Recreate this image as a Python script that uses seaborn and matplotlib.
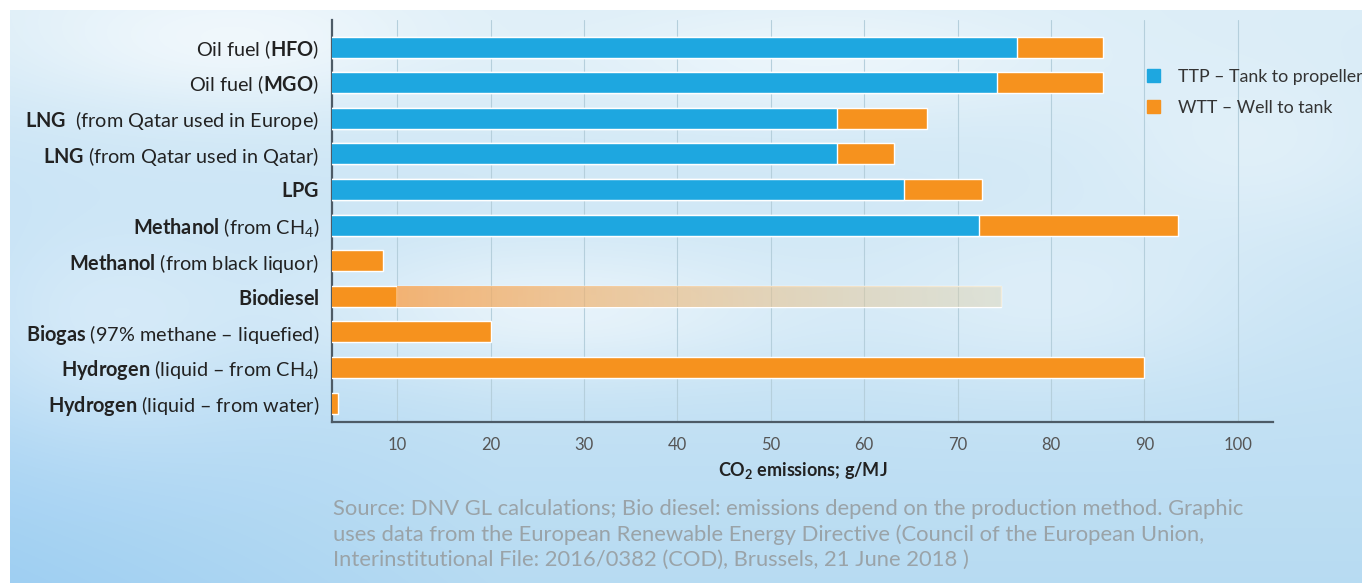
import numpy as np
import pandas as pd
import matplotlib
matplotlib.use("Agg")
import matplotlib.pyplot as plt
import seaborn as sns
from matplotlib.patches import Patch

# ---------------- data ----------------
fuels = ["HFO", "MGO", "LNG Europe", "LNG Qatar", "LPG", "Methanol CH4",
         "Methanol black liquor", "Biodiesel", "Biogas", "Hydrogen CH4", "Hydrogen water"]
labels = [r"Oil fuel ($\mathbf{HFO}$)",
          r"Oil fuel ($\mathbf{MGO}$)",
          r"$\mathbf{LNG}$  (from Qatar used in Europe)",
          r"$\mathbf{LNG}$ (from Qatar used in Qatar)",
          r"$\mathbf{LPG}$",
          r"$\mathbf{Methanol}$ (from CH$_4$)",
          r"$\mathbf{Methanol}$ (from black liquor)",
          r"$\mathbf{Biodiesel}$",
          r"$\mathbf{Biogas}$ (97% methane – liquefied)",
          r"$\mathbf{Hydrogen}$ (liquid – from CH$_4$)",
          r"$\mathbf{Hydrogen}$ (liquid – from water)"]
ttp = [76.4, 74.2, 57.1, 57.1, 64.3, 72.3, 0, 0, 0, 0, 0]
wtt = [9.2, 11.4, 9.6, 6.1, 8.3, 21.3, 8.5, 10.0, 20.1, 90.0, 3.7]
biodiesel_range = [10.0, 74.7]   # faded band: depends on production method
xticks = [10, 20, 30, 40, 50, 60, 70, 80, 90, 100]

source = ("Source: DNV GL calculations; Bio diesel: emissions depend on the production method. Graphic\n"
          "uses data from the European Renewable Energy Directive (Council of the European Union,\n"
          "Interinstitutional File: 2016/0382 (COD), Brussels, 21 June 2018 )")

df = pd.DataFrame({"fuel": fuels, "TTP": ttp, "WTT": wtt})
df["total"] = df["TTP"] + df["WTT"]

BLUE = "#1ea7e0"
ORANGE = "#f6921e"

# ---------------- style ----------------
sns.set_style("white")
plt.rcParams["font.family"] = ["Lato", "DejaVu Sans"]
plt.rcParams["mathtext.fontset"] = "custom"
plt.rcParams["mathtext.rm"] = "Lato"
plt.rcParams["mathtext.bf"] = "Lato:bold"
plt.rcParams["mathtext.it"] = "Lato:italic"

fig = plt.figure(figsize=(13.62, 5.83), dpi=100)

# sky background
H, W = 583, 1362
yy, xx = np.mgrid[0:H, 0:W]
t = yy / H
top = np.array([0.86, 0.93, 0.97])
bot = np.array([0.72, 0.86, 0.95])
bg = top[None, None, :] * (1 - t[..., None]) + bot[None, None, :] * t[..., None]
left_blue = np.clip(1 - xx / 500, 0, 1) * t
bg = bg - left_blue[..., None] * np.array([0.10, 0.05, 0.0])
clouds = [(230, 40, 220, 70, 0.6), (820, 60, 260, 60, 0.5), (560, 310, 260, 70, 0.55),
          (1050, 300, 200, 90, 0.35), (100, 330, 160, 110, 0.35), (1250, 150, 160, 90, 0.3)]
for cx, cy, sx, sy, a in clouds:
    g = a * np.exp(-(((xx - cx) / sx) ** 2 + ((yy - cy) / sy) ** 2))
    bg = bg + (1 - bg) * g[..., None]
bg[:10, :, :] = 1.0
bg[:, :10, :] = 1.0
bg = np.clip(bg, 0, 1)
bax = fig.add_axes([0, 0, 1, 1], zorder=-1)
bax.imshow(bg, aspect="auto", extent=(0, 1, 0, 1), origin="upper")
bax.axis("off")

ax = fig.add_axes([331.7 / 1362, 1 - 421.7 / 583, (1273.3 - 331.7) / 1362, (421.7 - 20) / 583])
ax.set_facecolor("none")

bw = 0.59
sns.barplot(data=df, x="total", y="fuel", color=ORANGE, saturation=1, orient="h",
            width=bw, ax=ax, zorder=3)
sns.barplot(data=df, x="TTP", y="fuel", color=BLUE, saturation=1, orient="h",
            width=bw, ax=ax, zorder=4)

# biodiesel faded band
bi = fuels.index("Biodiesel")
band = ax.barh(bi, biodiesel_range[1] - biodiesel_range[0], left=biodiesel_range[0],
               height=bw, color="none", zorder=3)[0]
grad = np.zeros((1, 256, 4))
grad[..., 0] = np.linspace(0.97, 0.88, 256)
grad[..., 1] = np.linspace(0.66, 0.82, 256)
grad[..., 2] = np.linspace(0.36, 0.66, 256)
grad[..., 3] = np.linspace(0.85, 0.40, 256)
im = ax.imshow(grad, aspect="auto", zorder=3,
               extent=(biodiesel_range[0], biodiesel_range[1], bi + bw / 2, bi - bw / 2))
im.set_clip_path(band)

ax.set_xlim(3, 103.8)
ax.set_ylim(10.525, -0.76)
ax.set_xticks(xticks)
ax.set_xticklabels([str(v) for v in xticks], fontsize=12, color="#555555")
ax.set_yticks(range(len(fuels)))
ax.set_yticklabels(labels, fontsize=14.3, color="#222222")
ax.tick_params(axis="both", length=0)
ax.tick_params(axis="x", pad=11)
ax.tick_params(axis="y", pad=9)
ax.grid(axis="x", color="#b5cfdc", linewidth=0.8, zorder=0)
ax.set_axisbelow(True)
for s in ["top", "right"]:
    ax.spines[s].set_visible(False)
for s in ["left", "bottom"]:
    ax.spines[s].set_color("#4d5b66")
    ax.spines[s].set_linewidth(1.6)
ax.set_xlabel(r"$\mathbf{CO_2}$ emissions; g/MJ", fontsize=13, fontweight="bold",
              color="#222222", labelpad=5)
ax.set_ylabel("")

handles = [Patch(color=BLUE, label="TTP – Tank to propeller"),
           Patch(color=ORANGE, label="WTT – Well to tank")]
fig.legend(handles=handles, loc="upper left", bbox_to_anchor=(1131 / 1362, 1 - 53 / 583),
           frameon=False, fontsize=12.8, handlelength=0.75, handleheight=0.75,
           handletextpad=1.0, labelspacing=0.85, labelcolor="#333333")

fig.text(333 / 1362, 1 - 499 / 583, source, fontsize=15.8, color="#9aa3a8",
         va="top", ha="left", linespacing=1.32)

fig.savefig("out.png", dpi=100)
